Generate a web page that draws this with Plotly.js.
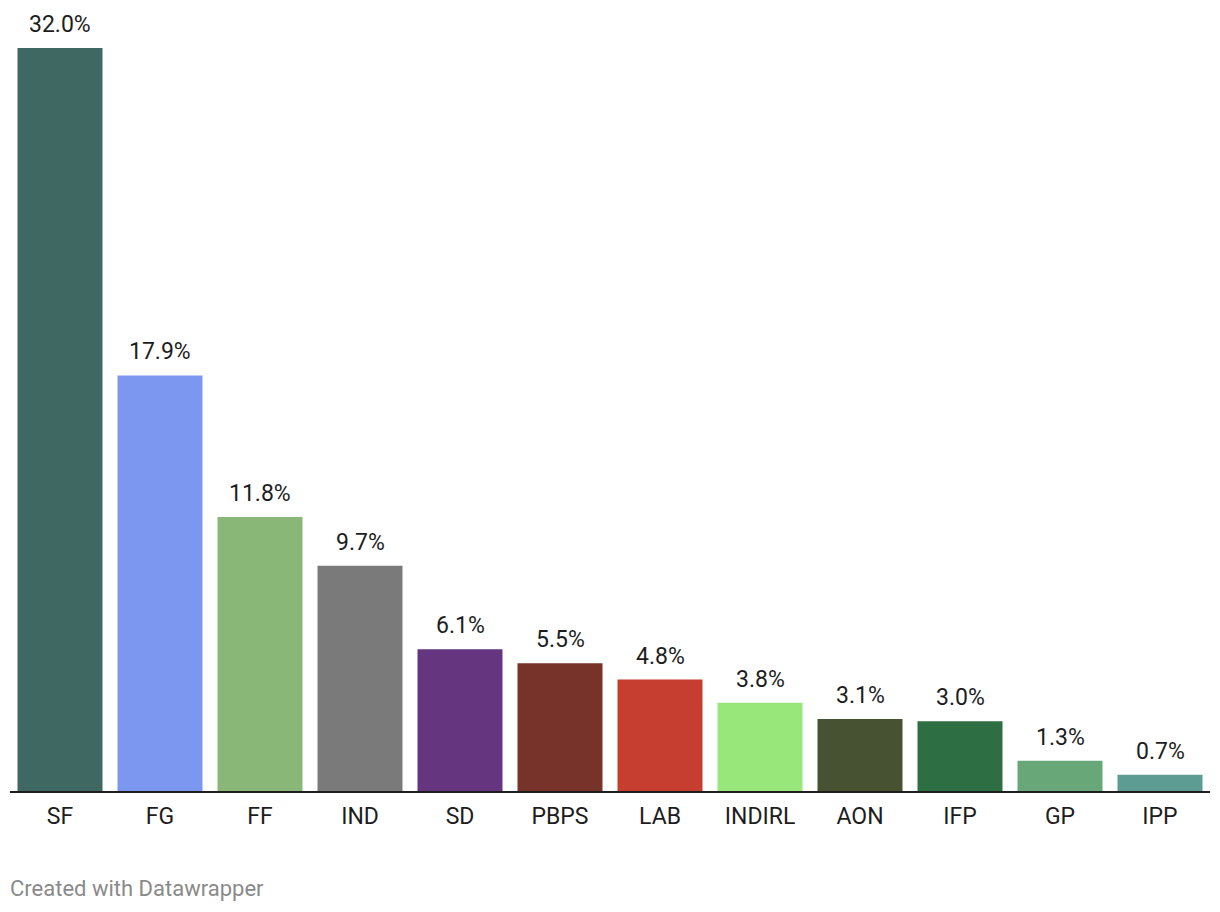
<!DOCTYPE html>
<html>
<head>
<meta charset="utf-8">
<script src="https://cdn.plot.ly/plotly-3.0.1.min.js"></script>
<style>
  html, body { margin: 0; padding: 0; background: #fff; }
  #chart { width: 1220px; height: 912px; }
</style>
</head>
<body>
<div id="chart"></div>
<script>
const parties = ["SF", "FG", "FF", "IND", "SD", "PBPS", "LAB", "INDIRL", "AON", "IFP", "GP", "IPP"];
const shares = [32.0, 17.9, 11.8, 9.7, 6.1, 5.5, 4.8, 3.8, 3.1, 3.0, 1.3, 0.7];
const colors = ["#3f6862", "#7b97ef", "#89b777", "#7a7a7a", "#66357f", "#77322a", "#c63e2f", "#97e77b", "#465231", "#2d6e43", "#67a778", "#5c9c92"];
const labels = shares.map(v => v.toFixed(1) + "%");

const trace = {
  type: "bar",
  x: parties,
  y: shares,
  marker: { color: colors },
  hoverinfo: "none"
};

const annotations = parties.map((p, i) => ({
  x: p, y: shares[i], xref: "x", yref: "y",
  text: labels[i], showarrow: false,
  yanchor: "bottom", yshift: 8,
  font: { family: "Roboto, sans-serif", size: 23, color: "#1d1d1d" }
}));
annotations.push({
  xref: "paper", yref: "paper", x: 0, xanchor: "left", xshift: -2,
  y: 0, yanchor: "top", yshift: -83,
  text: "Created with Datawrapper", showarrow: false,
  font: { family: "Roboto, sans-serif", size: 22, color: "#8a8a8a" }
});

const layout = {
  width: 1220, height: 912,
  margin: { l: 10, r: 10, t: 48, b: 121 },
  paper_bgcolor: "#fff", plot_bgcolor: "#fff",
  bargap: 0.15,
  showlegend: false,
  xaxis: {
    type: "category",
    showgrid: false, zeroline: false,
    showline: true, linecolor: "#1d1d1d", linewidth: 2,
    ticks: "", ticklabelstandoff: 3,
    tickfont: { family: "Roboto, sans-serif", size: 23, color: "#1d1d1d" },
    fixedrange: true
  },
  yaxis: {
    range: [0, 32], showgrid: false, zeroline: false,
    showticklabels: false, showline: false, fixedrange: true
  },
  annotations: annotations
};

Plotly.newPlot("chart", [trace], layout, { displayModeBar: false, staticPlot: true });
</script>
</body>
</html>
